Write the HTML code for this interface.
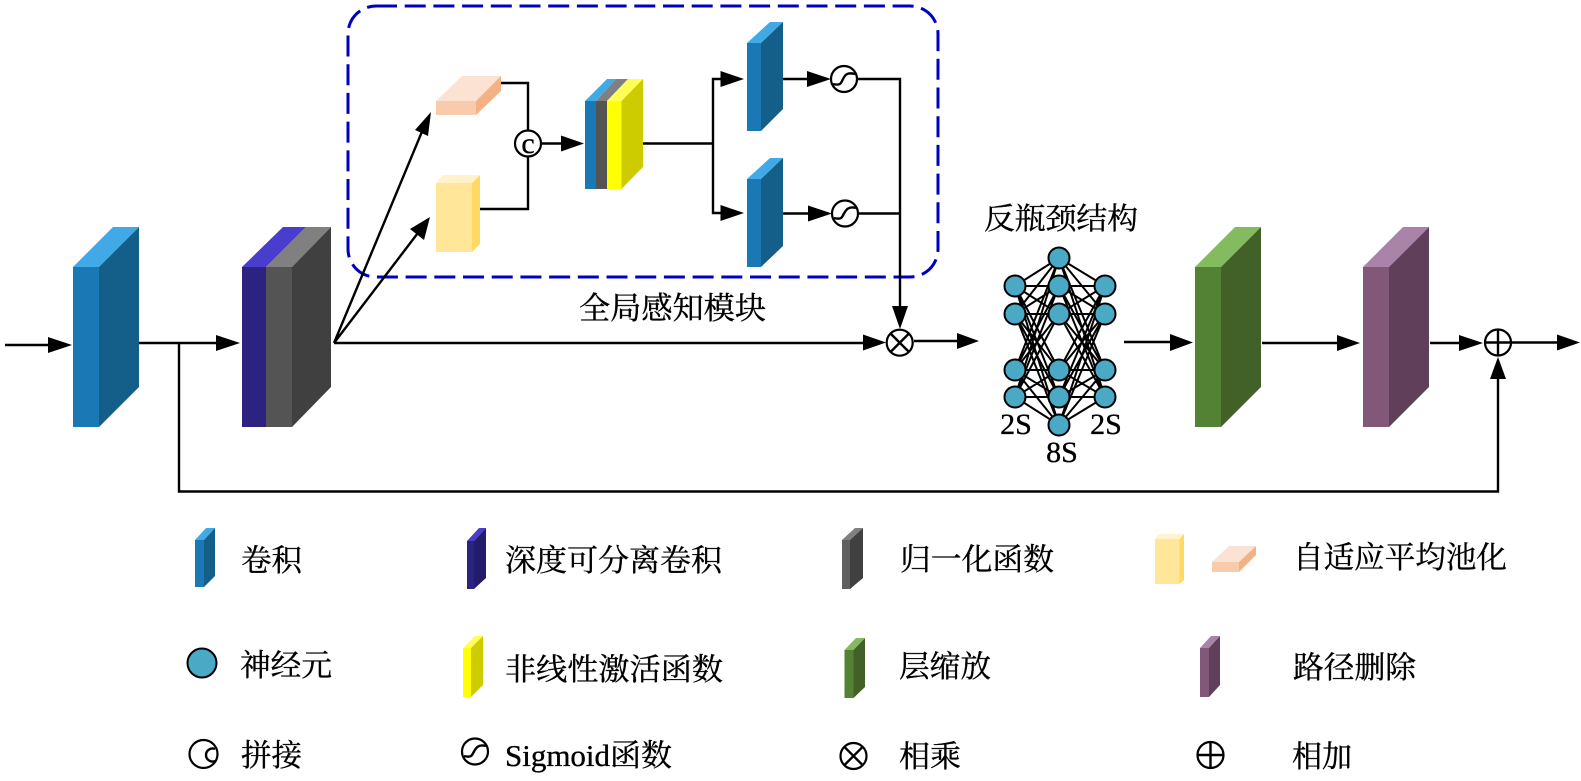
<!DOCTYPE html>
<html><head><meta charset="utf-8"><style>
html,body{margin:0;padding:0;background:#fff}
svg{display:block}
text{font-family:"Liberation Serif","Noto Serif CJK SC",serif;fill:#000;stroke:#000;stroke-width:.35px}
.l{fill:none;stroke:#000;stroke-width:2.4}
.c{fill:#fff;stroke:#000;stroke-width:2.2}
.n{fill:#4aa9c4;stroke:#000;stroke-width:2}
</style></head><body>
<svg width="1581" height="781" viewBox="0 0 1581 781" xmlns="http://www.w3.org/2000/svg">
<rect width="1581" height="781" fill="#fff"/>

<!-- dashed box -->
<rect x="348" y="6" width="590" height="271" rx="28" fill="none" stroke="#0000c0" stroke-width="3" stroke-dasharray="21 7.7"/>

<!-- main blocks -->
<polygon points="73,267 99,267 139,227 113,227" fill="#41a9e6"/>
<polygon points="73,267 99,267 99,427 73,427" fill="#1a78b4"/>
<polygon points="99,267 139,227 139,387 99,427" fill="#135f8a"/>

<polygon points="242,267 266,267 306,227 283,227" fill="#483dcc"/>
<polygon points="266,267 292,267 331,227 306,227" fill="#808080"/>
<polygon points="242,267 266,267 266,427 242,427" fill="#2c2280"/>
<polygon points="266,267 292,267 292,427 266,427" fill="#545454"/>
<polygon points="292,267 331,227 331,387 292,427" fill="#404040"/>

<polygon points="1195,267 1221,267 1261,227 1235,227" fill="#84bb5e"/>
<polygon points="1195,267 1221,267 1221,427 1195,427" fill="#548235"/>
<polygon points="1221,267 1261,227 1261,387 1221,427" fill="#416128"/>

<polygon points="1363,267 1389,267 1429,227 1403,227" fill="#aa84a8"/>
<polygon points="1363,267 1389,267 1389,427 1363,427" fill="#825878"/>
<polygon points="1389,267 1429,227 1429,387 1389,427" fill="#5f3f5a"/>

<!-- peach block -->
<polygon points="436,101 476,101 501,76 462,76" fill="#fbe2d3"/>
<polygon points="436,101 476,101 476,115 436,115" fill="#f8cbad"/>
<polygon points="476,101 501,76 501,91 476,115" fill="#f4b183"/>
<!-- pale yellow block -->
<polygon points="436,183 472,183 480,175 443,175" fill="#fff2cc"/>
<polygon points="436,183 472,183 472,252 436,252" fill="#ffe699"/>
<polygon points="472,183 480,175 480,244 472,252" fill="#ffd966"/>
<!-- multi block -->
<polygon points="585,101 596,101 616,79 607,79" fill="#41a9e6"/>
<polygon points="596,101 607,101 628,79 616,79" fill="#808080"/>
<polygon points="607,101 621,101 643,79 628,79" fill="#ffff55"/>
<rect x="585" y="101" width="11" height="88" fill="#1a78b4"/>
<rect x="596" y="101" width="11" height="88" fill="#545454"/>
<rect x="607" y="101" width="14.500" height="88" fill="#ffff00"/>
<polygon points="621.500,101 643,79 643,167 621.500,189" fill="#cccc00"/>
<!-- upper/lower blue -->
<polygon points="747,43 761,43 783,22 770,22" fill="#41a9e6"/>
<rect x="747" y="43" width="14" height="88" fill="#1a78b4"/>
<polygon points="761,43 783,22 783,109 761,131" fill="#135f8a"/>
<polygon points="747,179 761,179 783,158 770,158" fill="#41a9e6"/>
<rect x="747" y="179" width="14" height="88" fill="#1a78b4"/>
<polygon points="761,179 783,158 783,246 761,267" fill="#135f8a"/>

<!-- connectors -->
<path class="l" d="M5 345H50M139 343H218M179 343V491.500H1498V378M1262 343H1340M1430 343H1461M1512 342.500H1560M334 343H865M914 341H958M1124 342H1172"/>
<path class="l" d="M334 343L426 122M334 343L424 225"/>
<path class="l" d="M501 83H528V130M480 209H528V156M541 143.500H563M643 143.500H713M713 143.500V79H722M713 143.500V213H722M783 79H809M857 79H900V308M783 213.500H810M858 213.500H900"/>
<g fill="#000">
<polygon points="48,337 72,345 48,353"/>
<polygon points="216,335 240,343 216,351"/>
<polygon points="561,135.500 584,143.500 561,151.500"/>
<polygon points="720.500,71 744,79 720.500,87"/>
<polygon points="720.500,205 744,213 720.500,221"/>
<polygon points="807,71 831,79 807,87"/>
<polygon points="808,205.500 832,213.500 808,221.500"/>
<polygon points="892,306 908,306 900,329"/>
<polygon points="863,334.500 886,342.500 863,350.500"/>
<polygon points="957,333 979,341 957,349"/>
<polygon points="1170,334 1193,342.500 1170,351"/>
<polygon points="1337,335 1360,343 1337,351"/>
<polygon points="1459,335 1483,343 1459,351"/>
<polygon points="1557,334.500 1580,342.500 1557,350.500"/>
<polygon points="1490,379 1506,379 1498,357"/>
<polygon points="431,112 428,136 415,130"/>
<polygon points="430,217 424,240 410,229"/>
</g>

<!-- operators -->
<circle class="c" cx="528" cy="143.500" r="13"/>
<text x="528" y="153" font-size="30" text-anchor="middle">c</text>
<circle class="c" cx="844" cy="79" r="13"/>
<path class="l" d="M833 84C841 86 841 83 843 79S847 72 855 74"/>
<circle class="c" cx="845" cy="213.500" r="13"/>
<path class="l" d="M834 218C842 220 842 217 844 213.500S848 206 856 208"/>
<circle class="c" cx="899.700" cy="342.700" r="13"/>
<path class="l" d="M890.500 333.500L909 352M909 333.500L890.500 352"/>
<circle class="c" cx="1498" cy="342.500" r="13"/>
<path class="l" d="M1485 342.500H1511M1498 329.500V355.500"/>

<!-- network edges -->
<path fill="none" stroke="#000" stroke-width="2" d="M1015 286L1059 258M1015 286L1059 286M1015 286L1059 314M1015 286L1059 370M1015 286L1059 397M1015 286L1059 425M1015 314L1059 258M1015 314L1059 286M1015 314L1059 314M1015 314L1059 370M1015 314L1059 397M1015 314L1059 425M1015 370L1059 258M1015 370L1059 286M1015 370L1059 314M1015 370L1059 370M1015 370L1059 397M1015 370L1059 425M1015 397L1059 258M1015 397L1059 286M1015 397L1059 314M1015 397L1059 370M1015 397L1059 397M1015 397L1059 425M1105 286L1059 258M1105 286L1059 286M1105 286L1059 314M1105 286L1059 370M1105 286L1059 397M1105 286L1059 425M1105 314L1059 258M1105 314L1059 286M1105 314L1059 314M1105 314L1059 370M1105 314L1059 397M1105 314L1059 425M1105 370L1059 258M1105 370L1059 286M1105 370L1059 314M1105 370L1059 370M1105 370L1059 397M1105 370L1059 425M1105 397L1059 258M1105 397L1059 286M1105 397L1059 314M1105 397L1059 370M1105 397L1059 397M1105 397L1059 425"/>
<g>
<circle class="n" cx="1015" cy="286" r="10.500"/><circle class="n" cx="1015" cy="314" r="10.500"/><circle class="n" cx="1015" cy="370" r="10.500"/><circle class="n" cx="1015" cy="397" r="10.500"/>
<circle class="n" cx="1059" cy="258" r="10.500"/><circle class="n" cx="1059" cy="286" r="10.500"/><circle class="n" cx="1059" cy="314" r="10.500"/><circle class="n" cx="1059" cy="370" r="10.500"/><circle class="n" cx="1059" cy="397" r="10.500"/><circle class="n" cx="1059" cy="425" r="10.500"/>
<circle class="n" cx="1105" cy="286" r="10.500"/><circle class="n" cx="1105" cy="314" r="10.500"/><circle class="n" cx="1105" cy="370" r="10.500"/><circle class="n" cx="1105" cy="397" r="10.500"/>
</g>

<!-- diagram labels -->
<text x="984" y="229" font-size="30" textLength="154" lengthAdjust="spacingAndGlyphs">反瓶颈结构</text>
<text x="1016" y="434" font-size="30" text-anchor="middle">2S</text>
<text x="1106" y="434" font-size="30" text-anchor="middle">2S</text>
<text x="1062" y="462" font-size="30" text-anchor="middle">8S</text>
<text x="579" y="319" font-size="31" textLength="187" lengthAdjust="spacingAndGlyphs">全局感知模块</text>

<!-- legend icons -->
<polygon points="195,540 204,540 215,528 206,528" fill="#41a9e6"/><rect x="195" y="540" width="9" height="47" fill="#1a78b4"/><polygon points="204,540 215,528 215,576 204,587" fill="#135f8a"/>
<polygon points="467,541 474,541 486,528 479,528" fill="#483dcc"/><rect x="467" y="541" width="7" height="48" fill="#2c2280"/><polygon points="474,541 486,528 486,578 474,589" fill="#221c6a"/>
<polygon points="842,540 850,540 863,528 855,528" fill="#808080"/><rect x="842" y="540" width="8" height="49" fill="#606060"/><polygon points="850,540 863,528 863,578 850,589" fill="#404040"/>
<polygon points="1155,539 1179,539 1184,534 1159,534" fill="#fff2cc"/><rect x="1155" y="539" width="24.500" height="45" fill="#ffe699"/><polygon points="1179.500,539 1184,534 1184,580 1179.500,584" fill="#ffd966"/>
<polygon points="1212,562 1239,562 1256,546 1229,546" fill="#fbe2d3"/><rect x="1212" y="562" width="27" height="10" fill="#f8cbad"/><polygon points="1239,562 1256,546 1256,555 1239,572" fill="#f4b183"/>
<circle class="n" cx="202" cy="663" r="14.500"/>
<polygon points="463,648 471,648 483,636 475,636" fill="#ffff55"/><rect x="463" y="648" width="8" height="49" fill="#ffff00"/><polygon points="471,648 483,636 483,685 471,697" fill="#cccc00"/>
<polygon points="844.500,650 853.500,650 865,638 856,638" fill="#84bb5e"/><rect x="844.500" y="650" width="9" height="48" fill="#548235"/><polygon points="853.500,650 865,638 865,687 853.500,698" fill="#416128"/>
<polygon points="1200,648 1209,648 1220,636 1211,636" fill="#aa84a8"/><rect x="1200" y="648" width="9" height="49" fill="#825878"/><polygon points="1209,648 1220,636 1220,685 1209,697" fill="#5f3f5a"/>

<circle class="c" cx="203.500" cy="754" r="14"/>
<path class="l" d="M215 749A6.500 6.500 0 1 0 215 761"/>
<circle class="c" cx="475" cy="751.500" r="13"/>
<path class="l" d="M464 756C472 758 472 755 474 751.500S478 744 486 746"/>
<circle class="c" cx="853.500" cy="756" r="13"/>
<path class="l" d="M844.300 746.800L862.700 765.200M862.700 746.800L844.300 765.200"/>
<circle class="c" cx="1210.500" cy="755" r="13"/>
<path class="l" d="M1197.500 755H1223.500M1210.500 742V768"/>

<!-- legend labels -->
<g font-size="30.500">
<text x="241" y="571" textLength="61" lengthAdjust="spacingAndGlyphs">卷积</text>
<text x="505" y="571" textLength="217" lengthAdjust="spacingAndGlyphs">深度可分离卷积</text>
<text x="900" y="570" textLength="154" lengthAdjust="spacingAndGlyphs">归一化函数</text>
<text x="1293" y="568" textLength="214" lengthAdjust="spacingAndGlyphs">自适应平均池化</text>
<text x="240" y="676" textLength="92" lengthAdjust="spacingAndGlyphs">神经元</text>
<text x="505" y="680" textLength="218" lengthAdjust="spacingAndGlyphs">非线性激活函数</text>
<text x="899" y="677" textLength="92" lengthAdjust="spacingAndGlyphs">层缩放</text>
<text x="1293" y="678" textLength="123" lengthAdjust="spacingAndGlyphs">路径删除</text>
<text x="241" y="766" textLength="61" lengthAdjust="spacingAndGlyphs">拼接</text>
<text x="505" y="766" textLength="167" lengthAdjust="spacingAndGlyphs">Sigmoid函数</text>
<text x="899" y="767" textLength="62" lengthAdjust="spacingAndGlyphs">相乘</text>
<text x="1292" y="767" textLength="60" lengthAdjust="spacingAndGlyphs">相加</text>
</g>
</svg>
</body></html>
